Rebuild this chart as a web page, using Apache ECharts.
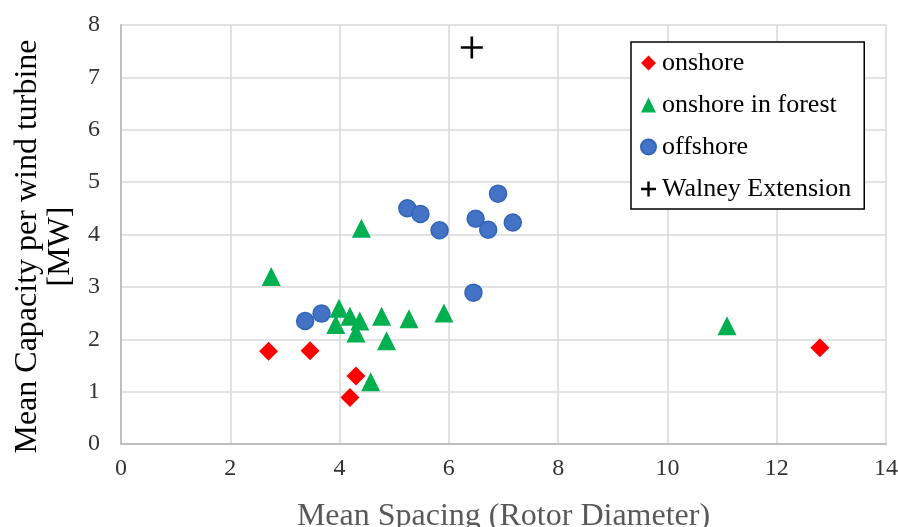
<!DOCTYPE html>
<html>
<head>
<meta charset="utf-8">
<script src="https://cdn.jsdelivr.net/npm/echarts@6/dist/echarts.min.js"></script>
<style>
html,body{margin:0;padding:0;background:#fff;}
#chart{width:898px;height:527px;}
</style>
</head>
<body>
<div id="chart"></div>
<script>
// ---- data ----
const seriesNames = ['onshore', 'onshore in forest', 'offshore', 'Walney Extension'];
const onshoreX = [2.70, 3.46, 4.30, 4.19, 12.79];
const onshoreY = [1.77, 1.78, 1.30, 0.89, 1.84];
const forestX = [2.75, 4.40, 3.99, 3.93, 4.19, 4.37, 4.30, 4.77, 5.27, 4.86, 4.57, 5.91, 11.09];
const forestY = [3.20, 4.12, 2.59, 2.28, 2.44, 2.35, 2.12, 2.44, 2.39, 1.97, 1.19, 2.50, 2.26];
const offshoreX = [3.37, 3.67, 5.24, 5.48, 5.83, 6.45, 6.49, 6.72, 6.90, 7.17];
const offshoreY = [2.35, 2.49, 4.50, 4.39, 4.08, 2.89, 4.30, 4.09, 4.78, 4.23];
const walneyX = [6.42];
const walneyY = [7.57];
const xTicks = [0, 2, 4, 6, 8, 10, 12, 14];
const yTicks = [0, 1, 2, 3, 4, 5, 6, 7, 8];
const xTitle = 'Mean Spacing (Rotor Diameter)';
const yTitle = 'Mean Capacity per wind turbine\n[MW]';

function pairs(xs, ys) { return xs.map((x, i) => [x, ys[i]]); }

const plusPath = 'path://M8.8,0h2.4v8.8h8.8v2.4h-8.8v8.8h-2.4v-8.8h-8.8v-2.4h8.8z';
const legendPlus = 'path://M8.4,0h3.2v8.4h8.4v3.2h-8.4v8.4h-3.2v-8.4h-8.4v-3.2h8.4z';
const font = '"Liberation Serif", "Times New Roman", serif';

const chart = echarts.init(document.getElementById('chart'), null, {renderer: 'canvas'});
chart.setOption({
  backgroundColor: '#ffffff',
  animation: false,
  grid: {left: 121, right: 12, top: 25, bottom: 83, containLabel: false, outerBoundsMode: 'none'},
  xAxis: {
    type: 'value',
    min: xTicks[0], max: xTicks[xTicks.length - 1], interval: xTicks[1] - xTicks[0],
    name: xTitle, nameLocation: 'middle', nameGap: 57,
    nameTextStyle: {fontFamily: font, fontSize: 32, color: '#595959'},
    axisLine: {show: true, lineStyle: {color: '#BFBFBF', width: 2}},
    axisTick: {show: false},
    axisLabel: {fontFamily: font, fontSize: 24, color: '#333333', margin: 13},
    splitLine: {show: true, lineStyle: {color: '#D9D9D9', width: 1.5}}
  },
  yAxis: {
    type: 'value',
    min: yTicks[0], max: yTicks[yTicks.length - 1], interval: yTicks[1] - yTicks[0],
    name: yTitle, nameLocation: 'middle', nameGap: 43,
    nameTextStyle: {fontFamily: font, fontSize: 32, color: '#000000', lineHeight: 33, padding: [0, 24, 0, 0]},
    axisLine: {show: true, lineStyle: {color: '#BFBFBF', width: 2}},
    axisTick: {show: false},
    axisLabel: {fontFamily: font, fontSize: 24, color: '#333333', margin: 21},
    splitLine: {show: true, lineStyle: {color: '#D9D9D9', width: 1.5}}
  },
  legend: {
    orient: 'vertical', left: 631, top: 42,
    padding: [8, 13, 7, 9],
    itemGap: 16, itemWidth: 15, itemHeight: 15,
    backgroundColor: '#ffffff', borderColor: '#000000', borderWidth: 1.5,
    textStyle: {fontFamily: font, fontSize: 26, color: '#000000', padding: [0, 0, 0, 1]},
    data: [
      {name: seriesNames[0], icon: 'diamond'},
      {name: seriesNames[1], icon: 'triangle'},
      {name: seriesNames[2], icon: 'circle'},
      {name: seriesNames[3], icon: legendPlus}
    ]
  },
  series: [
    {name: seriesNames[0], type: 'scatter', symbol: 'diamond', symbolSize: 19,
     itemStyle: {color: '#FF0000', opacity: 1}, data: pairs(onshoreX, onshoreY)},
    {name: seriesNames[1], type: 'scatter', symbol: 'triangle', symbolSize: 19,
     itemStyle: {color: '#00B050', opacity: 1}, data: pairs(forestX, forestY)},
    {name: seriesNames[2], type: 'scatter', symbol: 'circle', symbolSize: 17,
     itemStyle: {color: '#4472C4', borderColor: '#2F64B8', borderWidth: 1.5, opacity: 1}, data: pairs(offshoreX, offshoreY)},
    {name: seriesNames[3], type: 'scatter', symbol: plusPath, symbolSize: 22,
     itemStyle: {color: '#000000', opacity: 1}, data: pairs(walneyX, walneyY)}
  ]
});
</script>
</body>
</html>
